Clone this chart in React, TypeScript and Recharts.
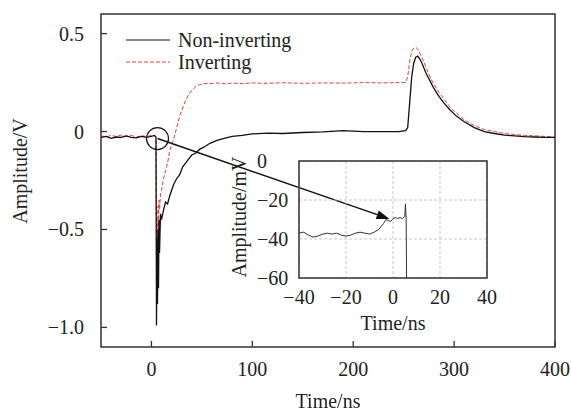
import React from "react"
import { LineChart, Line, XAxis, YAxis, CartesianGrid, ReferenceArea, ReferenceDot, ReferenceLine, Legend } from "recharts"

// main trace, time in ns, amplitude in V
const time = [
  -50, -45, -40, -35, -30, -25, -20, -15, -10, -5, 0, 3, 4.5, 5, 5.5, 6, 6.5, 7, 7.5, 8, 9, 10,
  12, 14, 16, 18, 20, 22, 25, 28, 31, 34, 37, 40, 44, 48, 52, 58, 65, 72, 80, 90, 100, 115, 130,
  150, 170, 190, 210, 230, 245, 252, 254, 256, 258, 260, 262, 264, 266, 268, 272, 276, 280, 285,
  290, 296, 302, 310, 320, 330, 340, 350, 360, 370, 380, 390, 400,
]
const nonInverting = [
  -0.03, -0.025, -0.035, -0.028, -0.03, -0.022, -0.03, -0.032, -0.025, -0.03, -0.025, -0.02, -0.03,
  -0.99, -0.55, -0.88, -0.5, -0.8, -0.45, -0.62, -0.42, -0.45,
  -0.4, -0.36, -0.37, -0.33, -0.3, -0.27, -0.24, -0.22, -0.18, -0.16, -0.14, -0.12, -0.11, -0.09,
  -0.08, -0.06, -0.045, -0.035, -0.025, -0.02, -0.012, -0.008, -0.01,
  -0.005, -0.002, 0.005, 0.0, 0.0, 0.0, 0.005, 0.02, 0.15, 0.28, 0.35, 0.38, 0.385, 0.37, 0.35,
  0.3, 0.26, 0.22, 0.18, 0.145, 0.11, 0.08, 0.05, 0.02, 0.0, -0.01, -0.018, -0.022, -0.026,
  -0.028, -0.03, -0.03,
]
const inverting = [
  -0.022, -0.028, -0.02, -0.025, -0.018, -0.025, -0.02, -0.028, -0.022, -0.025, -0.02, -0.022, -0.025,
  -0.68, -0.45, -0.6, -0.38, -0.5, -0.35, -0.4, -0.32, -0.3,
  -0.24, -0.2, -0.16, -0.1, -0.07, -0.04, 0.02, 0.08, 0.12, 0.16, 0.19, 0.21, 0.23, 0.24,
  0.245, 0.245, 0.248, 0.244, 0.247, 0.245, 0.248, 0.246, 0.249,
  0.246, 0.248, 0.247, 0.25, 0.248, 0.25, 0.25, 0.28, 0.36, 0.41, 0.425, 0.43, 0.42, 0.4, 0.38,
  0.33, 0.28, 0.24, 0.2, 0.165, 0.125, 0.095, 0.06, 0.03, 0.01, 0.0, -0.01, -0.015, -0.02,
  -0.022, -0.025, -0.028,
]

// inset zoom, time in ns, amplitude in mV
const insetTime = [
  -40, -38, -36, -34, -32, -30, -28, -26, -24, -22, -20, -18, -16, -14, -12, -10, -8, -6, -4,
  -3, -2, -1, 0, 1, 2, 3, 4, 5, 5.3, 5.6, 5.8,
]
const insetAmp = [
  -37, -36.5, -38, -39, -38.5, -37.5, -37, -37.5, -37, -38, -38.5, -38, -37, -36.5, -37, -37.5,
  -36.5, -35, -32, -30, -30.5, -31, -29.5, -29, -29.5, -29, -29.5, -28.5, -22, -30, -65,
]

const mainXTicks = [0, 100, 200, 300, 400]
const mainYTicks = [-1, -0.5, 0, 0.5]
const insetXTicks = [-40, -20, 0, 20, 40]
const insetYTicks = [-60, -40, -20, 0]

const mainData = time.map((t, i) => ({ t, nonInv: nonInverting[i], inv: inverting[i] }))
const insetData = insetTime.map((t, i) => ({ t, amp: insetAmp[i] }))

const font = "'Liberation Serif', 'Times New Roman', serif"
const ink = "#222"
const red = "#e8403a"

const minus = (v: number) => (v < 0 ? "\u2212" : "") + Math.abs(v)
const fmtMainY = (v: number) => (v === 0 ? "0" : (v < 0 ? "\u2212" : "") + Math.abs(v).toFixed(1))

const MainXTick = ({ x, y, payload }: any) => (
  <g>
    <line x1={x} x2={x} y1={y} y2={y - 6} stroke="#333" strokeWidth={1.3} />
    <text x={x} y={y + 29} textAnchor="middle" fontFamily={font} fontSize={20} fill={ink}>
      {payload.value}
    </text>
  </g>
)

const MainYTick = ({ x, y, payload }: any) => (
  <g>
    <line x1={x} x2={x + 6} y1={y} y2={y} stroke="#333" strokeWidth={1.3} />
    <text x={x - 17} y={y + 7} textAnchor="end" fontFamily={font} fontSize={20} fill={ink}>
      {fmtMainY(payload.value)}
    </text>
  </g>
)

const InsetXTick = ({ x, y, payload }: any) => (
  <text x={x} y={y + 26} textAnchor="middle" fontFamily={font} fontSize={20} fill={ink}>
    {minus(payload.value)}
  </text>
)

const InsetYTick = ({ x, y, payload }: any) => (
  <text x={x - 42} y={y + 7} textAnchor="start" fontFamily={font} fontSize={20} fill={ink}>
    {minus(payload.value)}
  </text>
)

const Arrow = (p: any) => {
  const { x1, y1, x2, y2 } = p
  const a = Math.atan2(y2 - y1, x2 - x1)
  const len = 13
  const hw = 4.5
  const bx = x2 - len * Math.cos(a)
  const by = y2 - len * Math.sin(a)
  const nx = -Math.sin(a) * hw
  const ny = Math.cos(a) * hw
  return (
    <g>
      <line x1={x1} y1={y1} x2={bx} y2={by} stroke="#111" strokeWidth={1.5} />
      <polygon points={`${x2},${y2} ${bx + nx},${by + ny} ${bx - nx},${by - ny}`} fill="#111" />
    </g>
  )
}

const legendStyle: Record<string, { stroke: string; dash?: string; label: string }> = {
  nonInv: { stroke: "#111", label: "Non-inverting" },
  inv: { stroke: red, dash: "4 2", label: "Inverting" },
}

const LegendBox = () => (
  <svg width={200} height={50}>
    {["nonInv", "inv"].map((k, i) => {
      const s = legendStyle[k]
      const y = 12 + i * 22
      return (
        <g key={k}>
          <line x1={6} x2={50} y1={y} y2={y} stroke={s.stroke} strokeDasharray={s.dash} strokeWidth={1.2} />
          <text x={58} y={y + 7} fontFamily={font} fontSize={20} fill={ink}>
            {s.label}
          </text>
        </g>
      )
    })}
  </svg>
)

const title: React.CSSProperties = {
  position: "absolute",
  fontFamily: font,
  fontSize: 20,
  lineHeight: "20px",
  color: ink,
  whiteSpace: "nowrap",
}

export default function App() {
  return (
    <div style={{ position: "fixed", left: 0, top: 0, width: 571, height: 411, background: "#fff" }}>
      <LineChart width={571} height={411} data={mainData} margin={{ top: 14, right: 16, bottom: 0, left: 0 }}>
        <XAxis
          dataKey="t"
          type="number"
          domain={[-50, 400]}
          ticks={mainXTicks}
          allowDataOverflow
          height={64}
          axisLine={false}
          tickLine={false}
          tickSize={0}
          tickMargin={0}
          tick={<MainXTick />}
          interval={0}
        />
        <YAxis
          type="number"
          domain={[-1.1, 0.6]}
          ticks={mainYTicks}
          allowDataOverflow
          width={101}
          axisLine={false}
          tickLine={false}
          tickSize={0}
          tickMargin={0}
          tick={<MainYTick />}
          interval={0}
        />
        <ReferenceArea x1={-50} x2={400} y1={-1.1} y2={0.6} fill="none" fillOpacity={0} stroke="#333" strokeWidth={1.5} ifOverflow="visible" />
        <Line dataKey="inv" name="Inverting" stroke={red} strokeWidth={1} strokeDasharray="4 2" dot={false} isAnimationActive={false} />
        <Line dataKey="nonInv" name="Non-inverting" stroke="#111" strokeWidth={1.3} dot={false} isAnimationActive={false} />
        <ReferenceDot x={6} y={-0.036} r={11} fill="none" stroke="#111" strokeWidth={1.2} />
        <ReferenceLine
          segment={[
            { x: 6, y: -0.036 },
            { x: 236, y: -0.446 },
          ]}
          shape={<Arrow />}
          ifOverflow="visible"
        />
        <Legend
          layout="vertical"
          align="center"
          verticalAlign="middle"
          content={<LegendBox />}
          wrapperStyle={{ left: 120, top: 28, width: 200, height: 50 }}
        />
      </LineChart>

      <div style={{ position: "absolute", left: 230, top: 140, width: 280, height: 190, pointerEvents: "none" }}>
        <LineChart width={280} height={190} data={insetData} margin={{ top: 21, right: 23, bottom: 0, left: 0 }}>
          <CartesianGrid stroke="#c8c8c8" strokeDasharray="3 2" />
          <XAxis
            dataKey="t"
            type="number"
            domain={[-40, 40]}
            ticks={insetXTicks}
            allowDataOverflow
            height={52}
            axisLine={false}
            tickLine={false}
            tickSize={0}
            tickMargin={0}
            tick={<InsetXTick />}
            interval={0}
          />
          <YAxis
            type="number"
            domain={[-60, 0]}
            ticks={insetYTicks}
            allowDataOverflow
            width={69}
            axisLine={false}
            tickLine={false}
            tickSize={0}
            tickMargin={0}
            tick={<InsetYTick />}
            interval={0}
          />
          <ReferenceArea x1={-40} x2={40} y1={-60} y2={0} fill="none" fillOpacity={0} stroke="#333" strokeWidth={1.5} ifOverflow="visible" />
          <Line dataKey="amp" stroke="#333" strokeWidth={1} dot={false} isAnimationActive={false} />
        </LineChart>
      </div>

      <div style={{ ...title, left: 228, width: 200, textAlign: "center", top: 391 }}>Time/ns</div>
      <div style={{ ...title, left: 20, top: 171, transform: "translate(-50%, -50%) rotate(-90deg)" }}>Amplitude/V</div>
      <div style={{ ...title, left: 293, width: 200, textAlign: "center", top: 313 }}>Time/ns</div>
      <div style={{ ...title, left: 239, top: 217, transform: "translate(-50%, -50%) rotate(-90deg)" }}>Amplitude/mV</div>
    </div>
  )
}
